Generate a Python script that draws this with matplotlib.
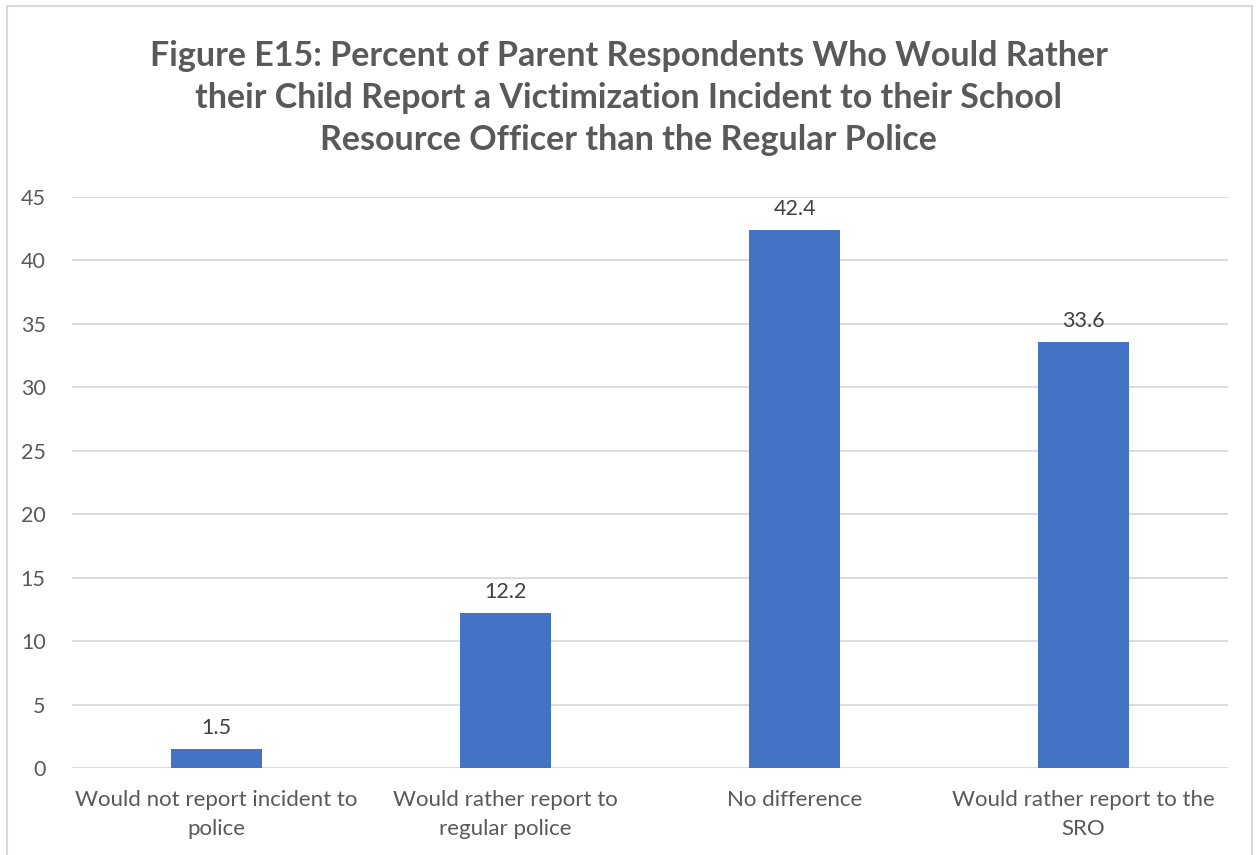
import matplotlib
matplotlib.use('Agg')
import matplotlib.pyplot as plt
from matplotlib.patches import Rectangle

categories = ['Would not report incident to\npolice',
              'Would rather report to\nregular police',
              'No difference',
              'Would rather report to the\nSRO']
values = [1.5, 12.2, 42.4, 33.6]
yticks = [0, 5, 10, 15, 20, 25, 30, 35, 40, 45]
title = ('Figure E15: Percent of Parent Respondents Who Would Rather\n'
         'their Child Report a Victimization Incident to their School\n'
         'Resource Officer than the Regular Police')

plt.rcParams['font.family'] = ['Lato', 'DejaVu Sans']
text_color = '#595959'

fig = plt.figure(figsize=(12.57, 8.55), dpi=100)
ax = fig.add_axes([0.0573, 0.1018, 0.9197, 0.6678])

x = range(len(categories))
bars = ax.bar(x, values, width=0.315, color='#4472c4', zorder=3)

for bar, v in zip(bars, values):
    ax.annotate(f"{v:.1f}", xy=(bar.get_x() + bar.get_width() / 2, v),
                xytext=(0, 8), textcoords='offset points',
                ha='center', va='bottom', fontsize=15.5, color='#404040')

ax.set_xlim(-0.5, len(categories) - 0.5)
ax.set_ylim(0, 45)
ax.set_yticks(yticks)
ax.set_yticklabels([str(t) for t in yticks], fontsize=15.5, color=text_color)
ax.set_xticks(list(x))
ax.set_xticklabels(categories, fontsize=16, color=text_color, linespacing=1.55)
ax.tick_params(length=0)
ax.tick_params(axis='y', pad=19)
ax.tick_params(axis='x', pad=16)
ax.yaxis.grid(True, color='#d9d9d9', linewidth=1.3, zorder=0)
for s in ax.spines.values():
    s.set_visible(False)

fig.text(0.5, 1 - 98 / 855, title, ha='center', va='center', fontsize=24.5,
         fontweight='bold', color=text_color, linespacing=1.4)

fig.patches.append(Rectangle((7 / 1257, -0.05), 1245 / 1257, 1 - 6 / 855 + 0.05,
                             transform=fig.transFigure, fill=False,
                             edgecolor='#d9d9d9', linewidth=1.5))

fig.savefig('out.png', dpi=100)
